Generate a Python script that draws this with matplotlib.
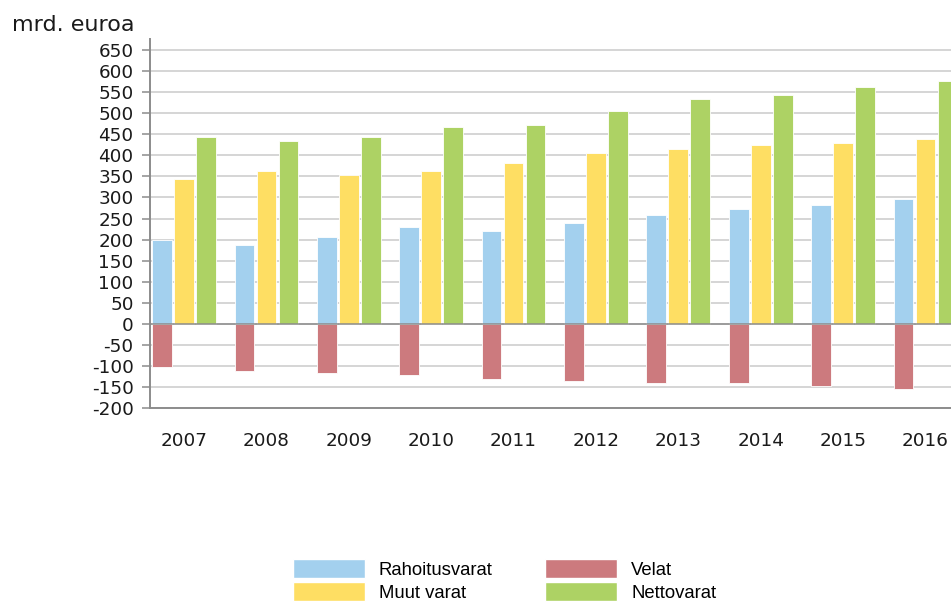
import numpy as np
import matplotlib.pyplot as plt
from matplotlib.patches import Patch

# Data (mrd. euroa)
years = ["2007", "2008", "2009", "2010", "2011", "2012", "2013", "2014", "2015", "2016"]
rahoitusvarat = [200, 187, 206, 230, 220, 239, 258, 273, 282, 297]
velat = [-101, -111, -116, -121, -130, -135, -140, -140, -146, -154]
muut_varat = [344, 363, 353, 363, 382, 406, 415, 425, 429, 439]
nettovarat = [444, 434, 444, 466, 472, 505, 534, 543, 562, 577]
yticks = list(range(-200, 651, 50))

c_blue = "#A3D0EE"
c_red = "#CC7A7E"
c_yellow = "#FEDE63"
c_green = "#ADD264"

fig = plt.figure(figsize=(9.51, 6.02), dpi=100)
ax = fig.add_axes([150 / 951, 1 - 408.3 / 602, 1 - 150 / 951, (408.3 - 39.3) / 602])

x = np.arange(len(years))
slot = 0.267
w = 0.24
ax.bar(x - slot, rahoitusvarat, w, color=c_blue, edgecolor="white", linewidth=0.6, zorder=2)
ax.bar(x - slot, velat, w, color=c_red, edgecolor="white", linewidth=0.6, zorder=2)
ax.bar(x, muut_varat, w, color=c_yellow, edgecolor="white", linewidth=0.6, zorder=2)
ax.bar(x + slot, nettovarat, w, color=c_green, edgecolor="white", linewidth=0.6, zorder=2)

ax.set_xlim(-0.413, 9.31)
ax.set_ylim(-200, 675)
ax.set_yticks(yticks)
ax.set_yticklabels([str(v) for v in yticks], fontsize=13.2, family="DejaVu Sans")
ax.set_xticks(x)
ax.set_xticklabels(years, fontsize=13.2, family="DejaVu Sans")

ax.yaxis.grid(True, color="#CACACA", linewidth=1.1, zorder=0)
ax.set_axisbelow(True)
ax.axhline(0, color="#8C8C8C", linewidth=1.1, zorder=3)

for s in ["top", "right"]:
    ax.spines[s].set_visible(False)
ax.spines["left"].set_color("#8C8C8C")
ax.spines["left"].set_linewidth(1.4)
ax.spines["bottom"].set_color("#8C8C8C")
ax.spines["bottom"].set_linewidth(1.4)
ax.tick_params(axis="y", length=5.8, width=1.1, color="#8C8C8C", pad=6, labelcolor="#1a1a1a")
ax.tick_params(axis="x", length=0, pad=17, labelcolor="#1a1a1a")

fig.text(12 / 951, 1 - 31 / 602, "mrd. euroa", fontsize=16, family="DejaVu Sans",
         color="#1a1a1a", va="baseline", ha="left")

handles = [Patch(facecolor=c_blue, edgecolor="white"),
           Patch(facecolor=c_yellow, edgecolor="white"),
           Patch(facecolor=c_red, edgecolor="white"),
           Patch(facecolor=c_green, edgecolor="white")]
labels = ["Rahoitusvarat", "Muut varat", "Velat", "Nettovarat"]
fig.legend(handles, labels, ncol=2, loc="upper left",
           bbox_to_anchor=(293 / 951, 1 - 559 / 602), frameon=False,
           prop={"family": "Liberation Sans", "size": 13.3},
           handlelength=3.9, handleheight=1.2, handletextpad=0.75,
           columnspacing=2.85, labelspacing=0.2, borderpad=0, borderaxespad=0)

plt.savefig("out.png", dpi=100)
